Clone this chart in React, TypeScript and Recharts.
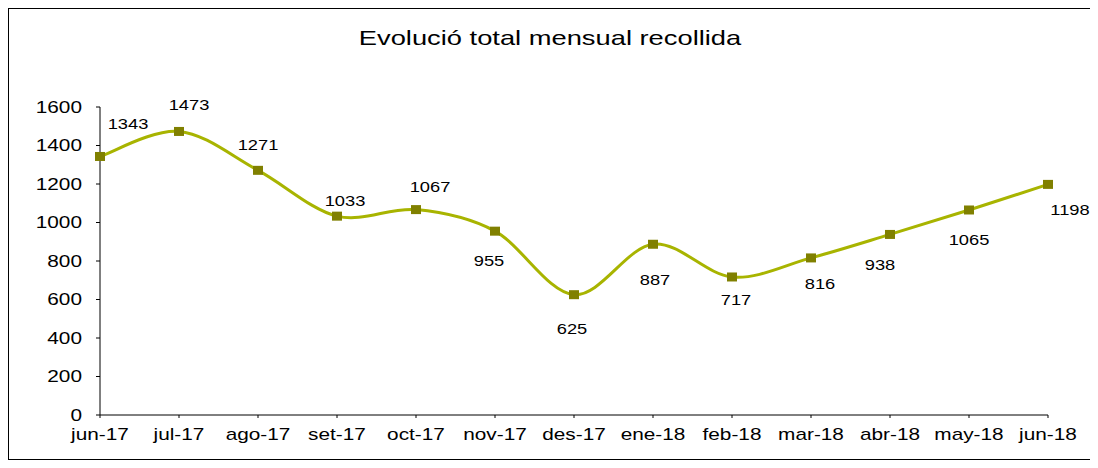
import { LineChart, Line, XAxis, YAxis } from "recharts";

const MONTHS = [
  "jun-17", "jul-17", "ago-17", "set-17", "oct-17", "nov-17", "des-17",
  "ene-18", "feb-18", "mar-18", "abr-18", "may-18", "jun-18",
];
const TOTALS = [1343, 1473, 1271, 1033, 1067, 955, 625, 887, 717, 816, 938, 1065, 1198];
const Y_TICKS = [0, 200, 400, 600, 800, 1000, 1200, 1400, 1600];

// label offsets (dx, dy from the marker), mirroring where Excel put them
const LABEL_OFFSETS: [number, number][] = [
  [28, -33], [10, -27], [0, -26], [8, -15], [14, -23], [-6, 30], [-2, 34],
  [2, 35], [4, 23], [9, 26], [-10, 30], [0, 30], [22, 25],
];

const data = MONTHS.map((m, i) => ({ month: m, total: TOTALS[i] }));

const FONT = "'Liberation Sans', Arial, sans-serif";
const LINE = "#a8b400";
const MARK = "#808000";
// the source picture is stretched sideways, so text is widened to match
const STRETCH = 1.3;

// Excel-style smoothed line (bezier through points, 1/6 tangents)
const excelCurve = (ctx: any) => {
  let pts: [number, number][] = [];
  return {
    areaStart() {},
    areaEnd() {},
    lineStart() { pts = []; },
    point(x: number, y: number) { pts.push([x, y]); },
    lineEnd() {
      if (!pts.length) return;
      ctx.moveTo(pts[0][0], pts[0][1]);
      for (let i = 0; i < pts.length - 1; i++) {
        const p0 = pts[i - 1] ?? pts[i];
        const p1 = pts[i];
        const p2 = pts[i + 1];
        const p3 = pts[i + 2] ?? p2;
        ctx.bezierCurveTo(
          p1[0] + (p2[0] - p0[0]) / 6, p1[1] + (p2[1] - p0[1]) / 6,
          p2[0] - (p3[0] - p1[0]) / 6, p2[1] - (p3[1] - p1[1]) / 6,
          p2[0], p2[1],
        );
      }
    },
  };
};

const WideText = ({ x, y, anchor, dy, size, sx = STRETCH, children }: any) => (
  <text transform={`translate(${x},${y}) scale(${sx},1)`} textAnchor={anchor} dy={dy}
    fontSize={size} fontFamily={FONT} fill="#000">
    {children}
  </text>
);

const XTick = ({ x, y, payload }: any) => (
  <WideText x={x} y={y} anchor="middle" dy="0.71em" size={16}>{payload.value}</WideText>
);

const YTick = ({ x, y, payload }: any) => (
  <WideText x={x} y={y} anchor="end" dy="0.355em" size={16}>{payload.value}</WideText>
);

const SquareDot = ({ cx, cy, index }: any) => (
  <rect key={index} x={cx - 5} y={cy - 4.5} width={10} height={9} fill={MARK} />
);

const ValueLabel = ({ x, y, value, index }: any) => {
  const [dx, dy] = LABEL_OFFSETS[index] ?? [0, -20];
  return (
    <WideText x={x + dx} y={y + dy} anchor="middle" dy="0.355em" size={15} sx={1.22}>
      {value}
    </WideText>
  );
};

export default function App() {
  return (
    <div style={{ position: "relative", width: 1082, height: 450, border: "1px solid #000", background: "#fff" }}>
      <style>{`.recharts-surface { overflow: visible; }`}</style>
      <div style={{
        position: "absolute", top: 17, left: 0, width: "100%", textAlign: "center",
        fontFamily: FONT, fontSize: 21, color: "#000",
        transform: `scaleX(${STRETCH})`,
      }}>
        Evolució total mensual recollida
      </div>
      <LineChart width={1082} height={450} data={data}
        margin={{ top: 98, right: 43, bottom: 14, left: 31 }}>
        <XAxis dataKey="month" height={30} tickSize={3} tickMargin={11}
          stroke="#000" tick={<XTick />} interval={0} />
        <YAxis width={60} domain={[0, 1600]} ticks={Y_TICKS} tickSize={4} tickMargin={14}
          stroke="#000" tick={<YTick />} allowDataOverflow />
        <Line dataKey="total" type={excelCurve as any} stroke={LINE} strokeWidth={3}
          dot={<SquareDot />} activeDot={false} isAnimationActive={false}
          label={<ValueLabel />} />
      </LineChart>
    </div>
  );
}
